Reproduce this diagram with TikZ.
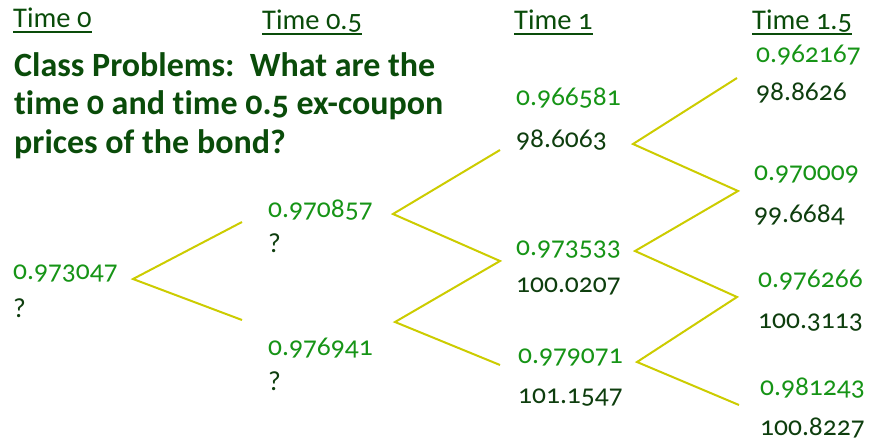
\documentclass[tikz,border=0pt]{standalone}
\usepackage{fontspec}
\setmainfont{Carlito}[Numbers=OldStyle, Ligatures=NoCommon]
\usepackage{tikz}
\definecolor{rategreen}{RGB}{22,148,22}
\definecolor{pricegreen}{RGB}{14,62,14}
\definecolor{headgreen}{RGB}{10,76,10}
\definecolor{branchyellow}{RGB}{204,204,0}

\tikzset{
  rate/.style={anchor=base west, inner sep=0pt, text=rategreen, font=\fontsize{27.5}{32}\selectfont},
  price/.style={anchor=base west, inner sep=0pt, text=pricegreen, font=\fontsize{27.5}{32}\selectfont},
  timehead/.style={anchor=base west, inner sep=0pt, text=headgreen, font=\fontsize{28.5}{32}\selectfont},
  question/.style={anchor=base west, inner sep=0pt, text=headgreen, font=\bfseries\fontsize{34}{38.5}\selectfont, align=left},
  branch/.style={draw=branchyellow, line width=2pt},
  headline/.style={draw=headgreen, line width=2pt}
}

\begin{document}
\begin{tikzpicture}[x=1pt, y=-1pt]
  \useasboundingbox (0,0) rectangle (870,444);

  % time headings
  \node[timehead] (h0) at (13,28) {Time 0};
  \node[timehead] (h1) at (262,30) {Time 0.5};
  \node[timehead] (h2) at (514,30) {Time 1};
  \node[timehead] (h3) at (752,30) {Time 1.5};
  \foreach \h in {h0,h1,h2,h3}
    \draw[headline] ([yshift=-4.5pt]\h.base west) -- ([yshift=-4.5pt]\h.base east);

  % question (anchored on its last line)
  \node[question] (q) at (14,153) {Class Problems:\ \ What are the\\time 0 and time 0.5 ex-coupon\\prices of the bond?};

  % time 0
  \node[rate] (r0) at (13,279) {0.973047};
  \node[price] (p0) at (13,317) {?};
  % time 0.5
  \node[rate] (r1u) at (268,217) {0.970857};
  \node[price] (p1u) at (268,252) {?};
  \node[rate] (r1d) at (268,355) {0.976941};
  \node[price] (p1d) at (268,390) {?};
  % time 1
  \node[rate] (r2a) at (516,105) {0.966581};
  \node[price] (p2a) at (516,147) {98.6063};
  \node[rate] (r2b) at (516,255) {0.973533};
  \node[price] (p2b) at (516,292) {100.0207};
  \node[rate] (r2c) at (518,363) {0.979071};
  \node[price] (p2c) at (518,403) {101.1547};
  % time 1.5
  \node[rate] (r3a) at (756,63) {0.962167};
  \node[price] (p3a) at (756,100) {98.8626};
  \node[rate] (r3b) at (754,180) {0.970009};
  \node[price] (p3b) at (754,222) {99.6684};
  \node[rate] (r3c) at (758,287) {0.976266};
  \node[price] (p3c) at (758,328) {100.3113};
  \node[rate] (r3d) at (760,395) {0.981243};
  \node[price] (p3d) at (760,435) {100.8227};

  % branch points
  \coordinate (a0) at (133,279);
  \coordinate (e0u) at (242,222);
  \coordinate (e0d) at (242,320);
  \coordinate (a1u) at (393,214);
  \coordinate (a1d) at (395,322);
  \coordinate (e1a) at (500,150);
  \coordinate (e1b) at (500,261);
  \coordinate (e1c) at (500,365);
  \coordinate (a2a) at (633,144);
  \coordinate (a2b) at (635,251);
  \coordinate (a2c) at (637,362);
  \coordinate (e2a) at (737,78);
  \coordinate (e2b) at (738,191);
  \coordinate (e2c) at (737,297);
  \coordinate (e2d) at (739,405);

  \draw[branch] (e0u) -- (a0) -- (e0d);
  \draw[branch] (e1a) -- (a1u) -- (e1b) -- (a1d) -- (e1c);
  \draw[branch] (e2a) -- (a2a) -- (e2b) -- (a2b) -- (e2c) -- (a2c) -- (e2d);
\end{tikzpicture}
\end{document}
